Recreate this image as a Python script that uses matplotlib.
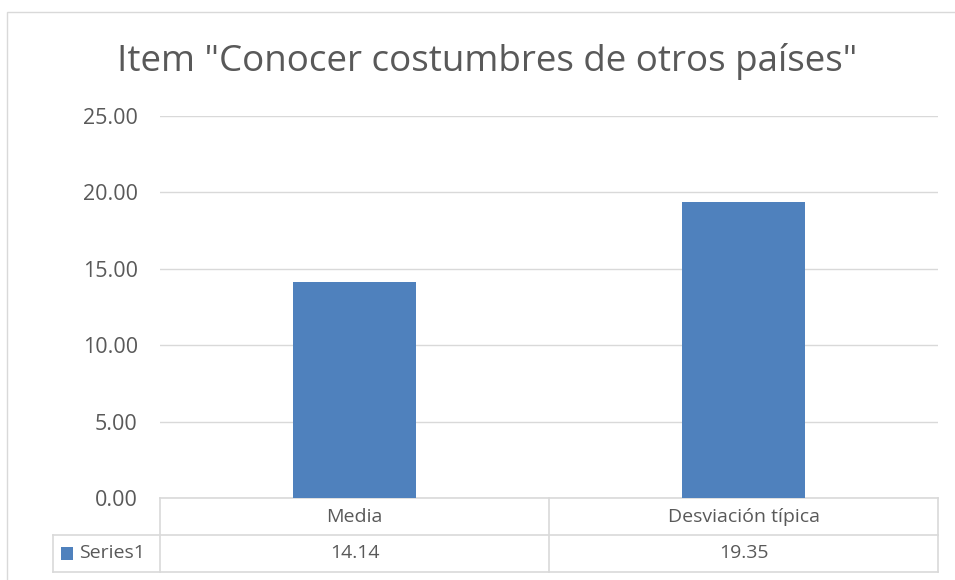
import matplotlib.pyplot as plt
from matplotlib.patches import Rectangle
from matplotlib.transforms import blended_transform_factory

# Data
categories = ['Media', 'Desviación típica']
series_name = 'Series1'
values = [14.14, 19.35]
yticks = [0, 5, 10, 15, 20, 25]

text_color = '#595959'
grid_color = '#d9d9d9'
bar_color = '#4f81bd'

plt.rcParams['font.family'] = ['Open Sans', 'DejaVu Sans']

W, H = 955, 580
fig = plt.figure(figsize=(W / 100, H / 100), dpi=100)

# chart border
fig.patches.append(Rectangle((7 / W, -0.01), 1.0, 1 - 12 / H + 0.01, transform=fig.transFigure,
                             fill=False, edgecolor=grid_color, linewidth=1.0))

ax = fig.add_axes([160 / W, (H - 498) / H, 778 / W, 382 / H])
x = list(range(len(categories)))
ax.bar(x, values, width=0.314, color=bar_color, zorder=3)
ax.set_xlim(-0.5, len(categories) - 0.5)
ax.set_ylim(0, 25)
ax.set_yticks(yticks)
ax.set_yticklabels([f'{v:.2f}' for v in yticks], fontsize=15.5, color=text_color)
ax.tick_params(axis='y', length=0, pad=16)
ax.set_xticks([])
ax.grid(axis='y', color=grid_color, linewidth=1.0, zorder=0)
for s in ax.spines.values():
    s.set_visible(False)

fig.text(487 / W, 1 - 61 / H, 'Item "Conocer costumbres de otros países"',
         ha='center', va='center', fontsize=26.5, color=text_color)

# data table under the axis
tr = blended_transform_factory(ax.transData, ax.transAxes)
row_h = 37 / 382
x0, x1 = -0.5, len(categories) - 0.5
xl = -0.5 - 107 / 389
lk = dict(color=grid_color, linewidth=1.2, transform=tr, clip_on=False)
ax.plot([x0, x1], [0, 0], **lk)
ax.plot([xl, x1], [-row_h, -row_h], **lk)
ax.plot([xl, x1], [-2 * row_h, -2 * row_h], **lk)
ax.plot([xl, xl], [-row_h, -2 * row_h], **lk)
for b in range(len(categories) + 1):
    ax.plot([b - 0.5, b - 0.5], [0, -2 * row_h], **lk)

for i, (c, v) in enumerate(zip(categories, values)):
    ax.text(i, -row_h / 2, c, ha='center', va='center', fontsize=14, color=text_color,
            transform=tr, clip_on=False)
    ax.text(i, -1.5 * row_h, f'{v:.2f}', ha='center', va='center', fontsize=14,
            color=text_color, transform=tr, clip_on=False)

ax.add_patch(Rectangle((xl + 8 / 389, -1.5 * row_h - 6.5 / 382), 12 / 389, 13 / 382,
                       transform=tr, clip_on=False, facecolor=bar_color, edgecolor='none'))
ax.text(xl + 26 / 389, -1.5 * row_h, series_name, ha='left', va='center', fontsize=14,
        color=text_color, transform=tr, clip_on=False)

fig.savefig('out.png', dpi=100)
